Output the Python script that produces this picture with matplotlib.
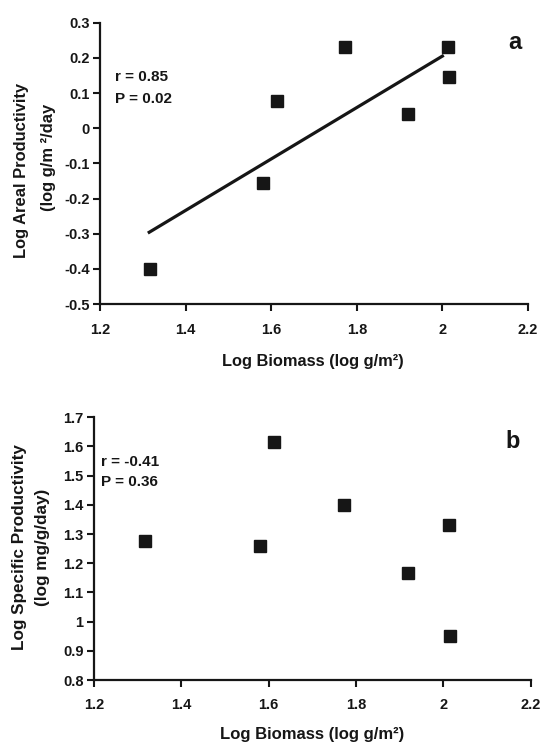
import matplotlib
matplotlib.use("Agg")
import matplotlib.pyplot as plt

plt.rcParams['font.family'] = ['Liberation Sans', 'DejaVu Sans']
plt.rcParams['font.weight'] = 'bold'

# Data
biomass = [1.316, 1.580, 1.613, 1.773, 1.920, 2.012, 2.015]
areal_prod = [-0.401, -0.156, 0.077, 0.231, 0.041, 0.231, 0.145]
specific_prod = [1.275, 1.260, 1.617, 1.400, 1.168, 1.330, 0.952]
fit_x = [1.315, 2.0]
fit_y = [-0.296, 0.205]

xticks = [1.2, 1.4, 1.6, 1.8, 2.0, 2.2]
xticklabels = ['1.2', '1.4', '1.6', '1.8', '2', '2.2']
yticks_a = [-0.5, -0.4, -0.3, -0.2, -0.1, 0, 0.1, 0.2, 0.3]
yticklabels_a = ['-0.5', '-0.4', '-0.3', '-0.2', '-0.1', '0', '0.1', '0.2', '0.3']
yticks_b = [0.8, 0.9, 1.0, 1.1, 1.2, 1.3, 1.4, 1.5, 1.6, 1.7]
yticklabels_b = ['0.8', '0.9', '1', '1.1', '1.2', '1.3', '1.4', '1.5', '1.6', '1.7']

W, H = 544, 742
fig = plt.figure(figsize=(W / 100, H / 100), dpi=100)


def px_axes(left, right, top, bottom):
    return fig.add_axes([left / W, (H - bottom) / H, (right - left) / W, (bottom - top) / H])


def fig_text(x, y, s, **kw):
    fig.text(x / W, (H - y) / H, s, ha='center', va='center', fontweight='bold', **kw)


ax1 = px_axes(100, 528, 22.7, 304)
ax2 = px_axes(94, 530.7, 417.3, 680)

INK = '#161616'


def style(ax, xpad):
    for s in ['top', 'right']:
        ax.spines[s].set_visible(False)
    for s in ['left', 'bottom']:
        ax.spines[s].set_linewidth(1.6)
        ax.spines[s].set_color(INK)
    ax.tick_params(axis='both', direction='out', length=5, width=1.5,
                   labelsize=10.5, color=INK, labelcolor=INK)
    ax.tick_params(axis='x', pad=xpad)
    ax.tick_params(axis='y', pad=2.5)
    for lab in ax.get_xticklabels() + ax.get_yticklabels():
        lab.set_fontweight('bold')


# Panel a
ax1.plot(biomass, areal_prod, 's', color=INK, markersize=9, clip_on=False)
ax1.plot(fit_x, fit_y, '-', color=INK, linewidth=2.3)
ax1.set_xlim(1.2, 2.2)
ax1.set_ylim(-0.5, 0.3)
ax1.set_xticks(xticks)
ax1.set_xticklabels(xticklabels)
ax1.set_yticks(yticks_a)
ax1.set_yticklabels(yticklabels_a)
style(ax1, 8.6)
ax1.text(0.035, 0.808, 'r = 0.85', transform=ax1.transAxes, fontsize=11,
         fontweight='bold', va='center', ha='left', color=INK)
ax1.text(0.035, 0.728, 'P = 0.02', transform=ax1.transAxes, fontsize=11,
         fontweight='bold', va='center', ha='left', color=INK)
ax1.text(0.970, 0.928, 'a', transform=ax1.transAxes, fontsize=17,
         fontweight='bold', va='center', ha='center', color=INK)
fig_text(313, 361.7, 'Log Biomass (log g/m²)', fontsize=11.8, color=INK)
fig_text(21.7, 170, 'Log Areal Productivity', fontsize=11.9, rotation=90, color=INK)
fig_text(48.3, 157, '(log g/m ²/day', fontsize=11.9, rotation=90, color=INK)

# Panel b
ax2.plot(biomass, specific_prod, 's', color=INK, markersize=9, clip_on=False)
ax2.set_xlim(1.2, 2.2)
ax2.set_ylim(0.8, 1.7)
ax2.set_xticks(xticks)
ax2.set_xticklabels(xticklabels)
ax2.set_yticks(yticks_b)
ax2.set_yticklabels(yticklabels_b)
style(ax2, 7.7)
ax2.text(0.017, 0.831, 'r = -0.41', transform=ax2.transAxes, fontsize=11,
         fontweight='bold', va='center', ha='left', color=INK)
ax2.text(0.017, 0.755, 'P = 0.36', transform=ax2.transAxes, fontsize=11,
         fontweight='bold', va='center', ha='left', color=INK)
ax2.text(0.959, 0.907, 'b', transform=ax2.transAxes, fontsize=17,
         fontweight='bold', va='center', ha='center', color=INK)
fig_text(312, 734, 'Log Biomass (log g/m²)', fontsize=12, color=INK)
fig_text(20, 547.5, 'Log Specific Productivity', fontsize=12.3, rotation=90, color=INK)
fig_text(43, 547.5, '(log mg/g/day)', fontsize=12.3, rotation=90, color=INK)

fig.savefig('out.png', dpi=100)
